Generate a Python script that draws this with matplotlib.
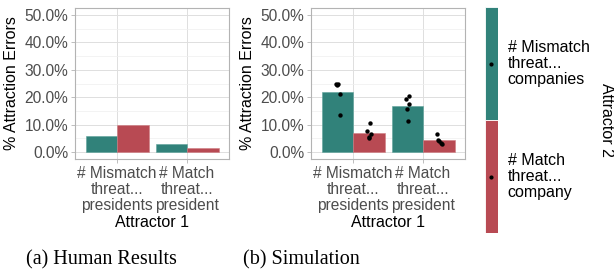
import matplotlib
matplotlib.use("Agg")
import matplotlib.pyplot as plt
import numpy as np

# data
categories = ["# Mismatch\nthreat...\npresidents", "# Match\nthreat...\npresident"]
legend_labels = ["# Mismatch\nthreat...\ncompanies", "# Match\nthreat...\ncompany"]
human_mismatch = [6.0, 3.1]
human_match = [10.0, 1.4]
sim_mismatch = [21.8, 16.9]
sim_match = [7.0, 4.3]
# individual simulation runs (% errors)
sim_mismatch_runs = [[25.0, 24.6, 24.8, 21.3, 13.4], [20.4, 19.5, 17.6, 15.7, 11.2]]
sim_match_runs = [[10.6, 7.8, 6.6, 5.4, 5.0], [6.7, 4.4, 4.0, 3.5, 2.9]]
jitter = [[-0.025, -0.01, 0.01, 0.035, 0.04], [0.02, -0.02, 0.03, 0.0, 0.01]]
yticks = [0, 10, 20, 30, 40, 50]

teal = "#31827a"
red = "#b84a53"
W, H = 614, 275

plt.rcParams["font.family"] = ["Liberation Sans", "DejaVu Sans"]
fig = plt.figure(figsize=(W / 100, H / 100), dpi=100)


def panel(x0, vals_a, vals_b, runs_a=None, runs_b=None):
    ax = fig.add_axes([x0 / W, (H - 159) / H, 154 / W, 151 / H])
    xs = np.arange(len(categories)) + 1
    bw = 0.45
    ax.bar(xs - bw / 2, vals_a, width=bw, color=teal, edgecolor="#5fa39b", linewidth=0.4, zorder=2)
    ax.bar(xs + bw / 2, vals_b, width=bw, color=red, edgecolor="#cf7d84", linewidth=0.4, zorder=2)
    if runs_a is not None:
        for i in range(len(categories)):
            ax.scatter(xs[i] - bw / 2 + np.array(jitter[i]), runs_a[i], s=10, color="black", zorder=3, linewidths=0)
            ax.scatter(xs[i] + bw / 2 + np.array(jitter[1 - i]), runs_b[i], s=10, color="black", zorder=3, linewidths=0)
    ax.set_xlim(0.4, 2.6)
    ax.set_ylim(-2.5, 52.5)
    ax.set_yticks(yticks)
    ax.set_yticklabels([f"{v:.1f}%" for v in yticks])
    ax.set_yticks([5, 15, 25, 35, 45], minor=True)
    ax.set_xticks(xs)
    ax.set_xticklabels(categories, linespacing=1.1)
    ax.grid(True, which="major", color="#dedede", linewidth=0.7, zorder=0)
    ax.grid(True, which="minor", axis="y", color="#efefef", linewidth=0.5, zorder=0)
    ax.set_axisbelow(True)
    for s in ax.spines.values():
        s.set_color("#b3b3b3")
        s.set_linewidth(0.8)
    ax.tick_params(axis="both", which="major", colors="#b3b3b3", labelcolor="#4d4d4d",
                   labelsize=11.2, length=3, width=0.6, pad=2)
    ax.tick_params(axis="both", which="minor", length=0)
    ax.set_ylabel("% Attraction Errors", fontsize=11.5, labelpad=4)
    ax.set_xlabel("Attractor 1", fontsize=11.5, labelpad=1)
    return ax


panel(75, human_mismatch, human_match)
panel(311, sim_mismatch, sim_match, sim_mismatch_runs, sim_match_runs)

# legend keys
lax = fig.add_axes([485 / W, (H - 233) / H, 12.5 / W, 226 / H])
lax.bar([0], [1], bottom=[1], width=1, color=teal, edgecolor="white", linewidth=0.6)
lax.bar([0], [1], bottom=[0], width=1, color=red, edgecolor="white", linewidth=0.6)
lax.scatter([0, 0], [1.5, 0.5], s=9, color="black", zorder=3, linewidths=0)
lax.set_xlim(-0.5, 0.5)
lax.set_ylim(0, 2)
lax.axis("off")
for yv, lab in zip([1.5, 0.5], legend_labels):
    lax.text(1.3, yv, lab, fontsize=11.5, va="center", ha="left", linespacing=1.1, clip_on=False)
fig.text(606 / W, 1 - 120 / H, "Attractor 2", rotation=-90, fontsize=11.5, ha="center", va="center")

# captions
fig.text(101 / W, 1 - 260 / H, "(a) Human Results", fontsize=14.5, family="Liberation Serif", ha="center", va="center")
fig.text(301 / W, 1 - 260 / H, "(b) Simulation", fontsize=14.5, family="Liberation Serif", ha="center", va="center")

fig.savefig("out.png", dpi=100)
